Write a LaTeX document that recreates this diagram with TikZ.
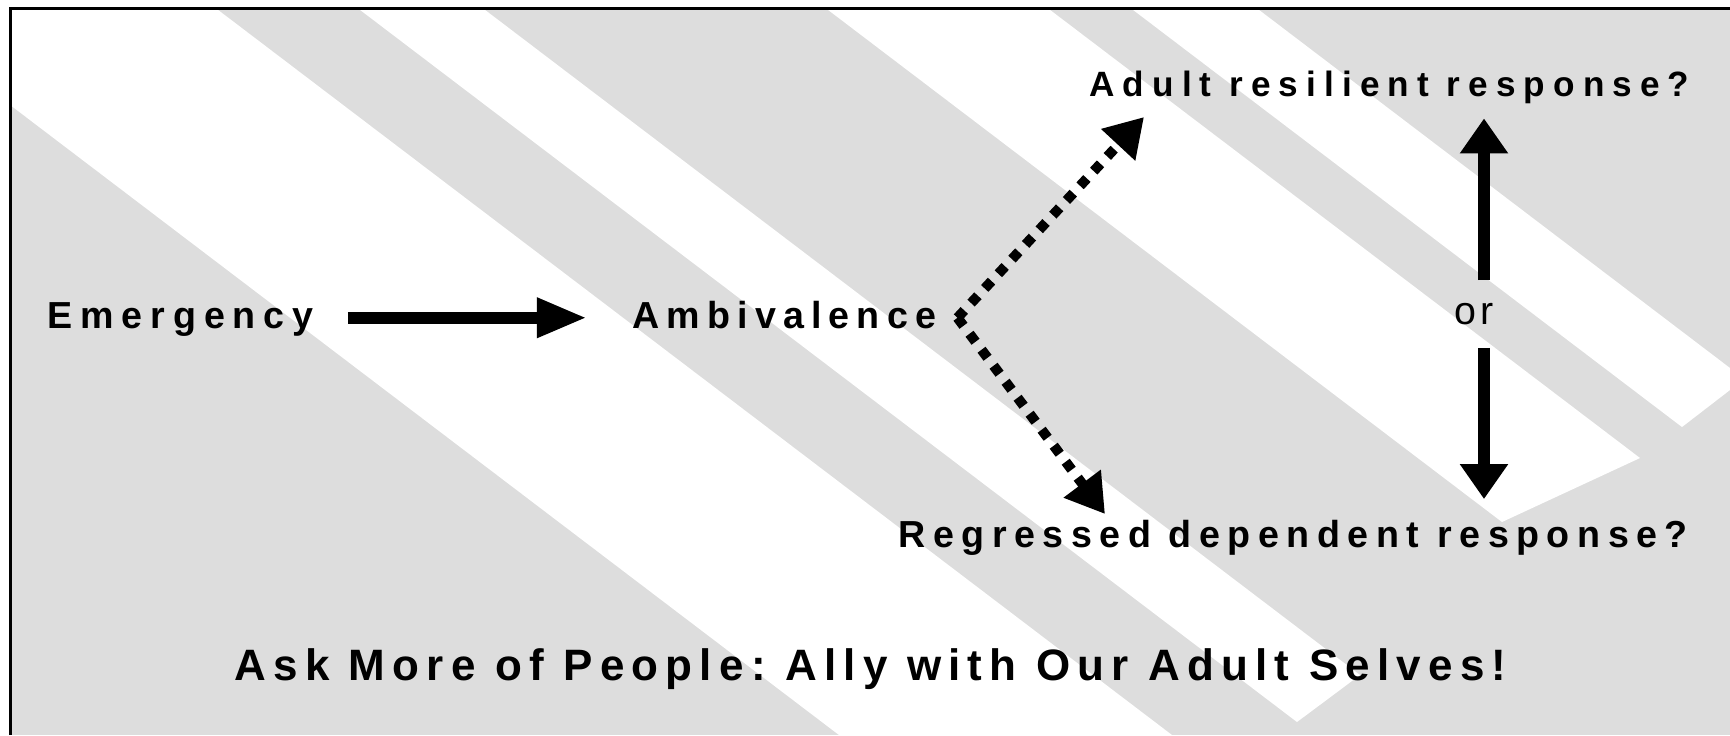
\documentclass[tikz,border=0pt]{standalone}
\usepackage{fontspec}
\setmainfont{Liberation Sans}
\newfontfamily\labelfont{Liberation Sans}
\frenchspacing
\usetikzlibrary{arrows.meta, positioning, calc}
\definecolor{stripegray}{HTML}{DDDDDD}
\tikzstyle{line} = [draw, -{Triangle[length=0.5cm, width=0.37cm]}]

\begin{document}
\begin{tikzpicture}[x=0.01cm, y=-0.01cm, >=Triangle, thick]
  % Define styles
  \tikzstyle{stripe} = [fill=white]
  \tikzstyle{lbl} = [font=\labelfont\bfseries\fontsize{10.7}{13}\selectfont\addfontfeature{LetterSpace=19}, inner xsep=0.1cm, inner ysep=0.135cm, text height=0.28cm, text depth=0.075cm, anchor=base west]
  \tikzstyle{motto} = [font=\labelfont\bfseries\fontsize{12.5}{15}\selectfont\addfontfeature{LetterSpace=16.5}, inner sep=0pt, anchor=base west]
  \tikzstyle{orlbl} = [font=\labelfont\fontsize{11.2}{14}\selectfont\addfontfeature{LetterSpace=12}, inner sep=0pt, minimum height=0.65cm]
  \tikzstyle{fatline} = [line width=0.12cm, -{Triangle[length=0.5cm, width=0.37cm]}]
  \tikzstyle{vline} = [line width=0.12cm, -{Triangle[length=0.35cm, width=0.46cm]}]
  \tikzstyle{dotline} = [line width=0.1cm, dash pattern=on 0.1cm off 0.1cm, -{Triangle[length=0.38cm, width=0.44cm]}]

  \useasboundingbox (0,0) rectangle (1730,735);

  % Background stripes
  \fill[stripegray] (10,8) rectangle (1730,735);
  \begin{scope}
    \clip (10,8) rectangle (1730,735);
    \fill[stripe] (-128,0) -- (205,0) -- (1172,735) -- (839,735) -- cycle;
    \fill[stripe] (347,0) -- (472,0) -- (1360,675) -- (1297,722) -- cycle;
    \fill[stripe] (815,0) -- (1037,0) -- (1640,458) -- (1502,522) -- cycle;
    \fill[stripe] (1120,0) -- (1246,0) -- (1730,368) -- (1730,390) -- (1682,427) -- cycle;
  \end{scope}
  \draw[line width=0.035cm] (10.5,735) -- (10.5,8.5) -- (1730,8.5);

  % Place nodes
  \node [lbl, font=\labelfont\bfseries\fontsize{10.7}{13}\selectfont\addfontfeature{LetterSpace=21}] (emergency) at (36,328) {Emergency};
  \node [lbl, inner xsep=0.2cm] (ambivalence) at (611,328) {Ambivalence};
  \node [lbl, font=\labelfont\bfseries\fontsize{10}{12}\selectfont\addfontfeature{LetterSpace=23}] (adult) at (1078,96) {Adult resilient response?};
  \node [lbl, font=\labelfont\bfseries\fontsize{10.7}{13}\selectfont\addfontfeature{LetterSpace=20}] (regressed) at (887,547) {Regressed dependent response?};
  \node [orlbl] (orlbl) at (1474,314) {or};
  \node [motto] (motto) at (233,680) {Ask More of People: Ally with Our Adult Selves!};
  \coordinate (uptip) at (1144,117);
  \coordinate (downtip) at (1105,514);

  % Draw edges
  \path [line, fatline, shorten <=0.23cm, shorten >=0.24cm] (emergency.east) -- (ambivalence.west);
  \path [line, dotline] (ambivalence.east) -- (uptip);
  \path [line, dotline] (ambivalence.east) -- (downtip);
  \path [line, vline] ($(orlbl.north)+(10,0)$) -- ($(orlbl.north |- adult.south)+(10,0)$);
  \path [line, vline, shorten >=0.05cm] ($(orlbl.south)+(10,0)$) -- ($(orlbl.south |- regressed.north)+(10,0)$);
\end{tikzpicture}
\end{document}
